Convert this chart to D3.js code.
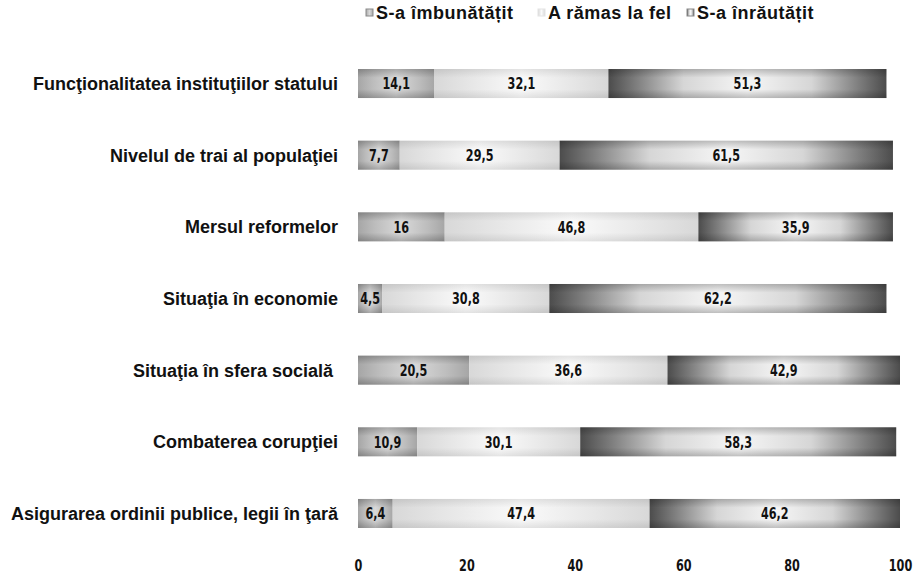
<!DOCTYPE html>
<html>
<head>
<meta charset="utf-8">
<script src="https://cdn.jsdelivr.net/npm/d3@7"></script>
<style>
  html, body { margin: 0; padding: 0; background: #fff; }
  svg { display: block; }
</style>
</head>
<body>
<script>
const categories = [
  "Funcţionalitatea instituţiilor statului",
  "Nivelul de trai al populaţiei",
  "Mersul reformelor",
  "Situaţia în economie",
  "Situaţia în sfera socială ",
  "Combaterea corupţiei",
  "Asigurarea ordinii publice, legii în ţară"
];
const seriesNames = ["S-a îmbunătățit", "A rămas la fel", "S-a înrăutățit"];
const improved = [14.1, 7.7, 16, 4.5, 20.5, 10.9, 6.4];
const same     = [32.1, 29.5, 46.8, 30.8, 36.6, 30.1, 47.4];
const worse    = [51.3, 61.5, 35.9, 62.2, 42.9, 58.3, 46.2];
const tickValues = [0, 20, 40, 60, 80, 100];

const W = 913, H = 578;
const svg = d3.select("body").append("svg").attr("width", W).attr("height", H);
const defs = svg.append("defs");

const grads = [
  { id: "g0", stops: [[0, "#a6a6a6"], [0.2, "#bdbdbd"], [0.5, "#d9d9d9"], [0.8, "#bdbdbd"], [1, "#a6a6a6"]] },
  { id: "g1", stops: [[0, "#d8d8d8"], [0.2, "#e6e6e6"], [0.5, "#fafafa"], [0.8, "#e6e6e6"], [1, "#d8d8d8"]] },
  { id: "g2", stops: [[0, "#4c4c4c"], [0.1, "#7e7e7e"], [0.27, "#d6d6d6"], [0.5, "#f6f6f6"], [0.73, "#d6d6d6"], [0.9, "#7e7e7e"], [1, "#4c4c4c"]] }
];
grads.forEach(g => {
  const lg = defs.append("linearGradient").attr("id", g.id)
    .attr("x1", 0).attr("x2", 1).attr("y1", 0).attr("y2", 0);
  g.stops.forEach(([o, c]) => lg.append("stop").attr("offset", o).attr("stop-color", c));
});
const vg = defs.append("linearGradient").attr("id", "vshade")
  .attr("x1", 0).attr("x2", 0).attr("y1", 0).attr("y2", 1);
[[0, 0.3], [0.3, 0], [0.7, 0], [1, 0.3]].forEach(([o, a]) =>
  vg.append("stop").attr("offset", o).attr("stop-color", "#000").attr("stop-opacity", a));

const x = d3.scaleLinear().domain([0, 100]).range([358, 900]);
const y = d3.scaleBand().domain(categories).range([47.7, 549.3])
  .paddingInner(0.595).paddingOuter(0.2975);

const rows = categories.map((c, i) => {
  const vals = [improved[i], same[i], worse[i]];
  let acc = 0;
  return { cat: c, segs: vals.map((v, k) => { const s = { k, v, x0: acc, x1: acc + v }; acc += v; return s; }) };
});

const fmt = v => String(v).replace(".", ",");
const numFont = "'Liberation Sans Narrow', 'Arial Narrow', 'DejaVu Sans Condensed', sans-serif";

const rowG = svg.selectAll("g.row").data(rows).join("g").attr("class", "row")
  .attr("transform", d => `translate(0,${y(d.cat)})`);

const segG = rowG.selectAll("g.seg").data(d => d.segs).join("g").attr("class", "seg");
segG.append("rect")
  .attr("x", d => x(d.x0)).attr("width", d => x(d.x1) - x(d.x0))
  .attr("y", 0).attr("height", y.bandwidth())
  .attr("fill", d => `url(#g${d.k})`);
segG.append("rect")
  .attr("x", d => x(d.x0)).attr("width", d => x(d.x1) - x(d.x0))
  .attr("y", 0).attr("height", y.bandwidth())
  .attr("fill", "url(#vshade)")
  .attr("opacity", d => d.k === 1 ? 0.3 : 0.75);
segG.append("text")
  .attr("transform", d => `translate(${(x(d.x0) + x(d.x1)) / 2},${y.bandwidth() / 2}) scale(0.78,1)`)
  .attr("text-anchor", "middle").attr("dy", "0.36em")
  .style("font-family", numFont).style("font-weight", "bold").style("font-size", "16px")
  .attr("fill", "#111")
  .text(d => fmt(d.v));

// category labels
svg.selectAll("text.cat").data(categories).join("text").attr("class", "cat")
  .attr("x", 338).attr("y", d => y(d) + y.bandwidth() / 2).attr("dy", "0.36em")
  .attr("text-anchor", "end")
  .style("white-space", "pre")
  .style("font-family", "'Liberation Sans', Arial, sans-serif")
  .style("font-weight", "bold").style("font-size", "18px")
  .attr("fill", "#111")
  .text(d => d);

// x axis (labels only)
const axis = d3.axisBottom(x).tickValues(tickValues).tickSize(0).tickPadding(0).tickFormat(d3.format("d"));
const axG = svg.append("g").attr("transform", "translate(0,560)").call(axis);
axG.select(".domain").remove();
axG.selectAll("text")
  .attr("transform", "scale(0.78,1)")
  .style("font-family", numFont).style("font-weight", "bold").style("font-size", "16px")
  .attr("fill", "#111");

// legend
const legendX = [376, 548, 697];
const leg = svg.selectAll("g.leg").data(seriesNames).join("g").attr("class", "leg")
  .attr("transform", (d, i) => `translate(${legendX[i]},19)`);
leg.append("rect").attr("x", -10).attr("y", -10).attr("width", 7).attr("height", 7)
  .attr("fill", (d, i) => `url(#g${i})`).attr("stroke", (d, i) => i === 1 ? "#e4e4e4" : "#8a8a8a").attr("stroke-width", 1);
leg.append("text").attr("x", 0).attr("y", 0)
  .style("font-family", "'Liberation Sans', Arial, sans-serif")
  .style("font-weight", "bold").style("font-size", "18px")
  .style("letter-spacing", "0.5px")
  .attr("fill", "#111")
  .text(d => d);
</script>
</body>
</html>
